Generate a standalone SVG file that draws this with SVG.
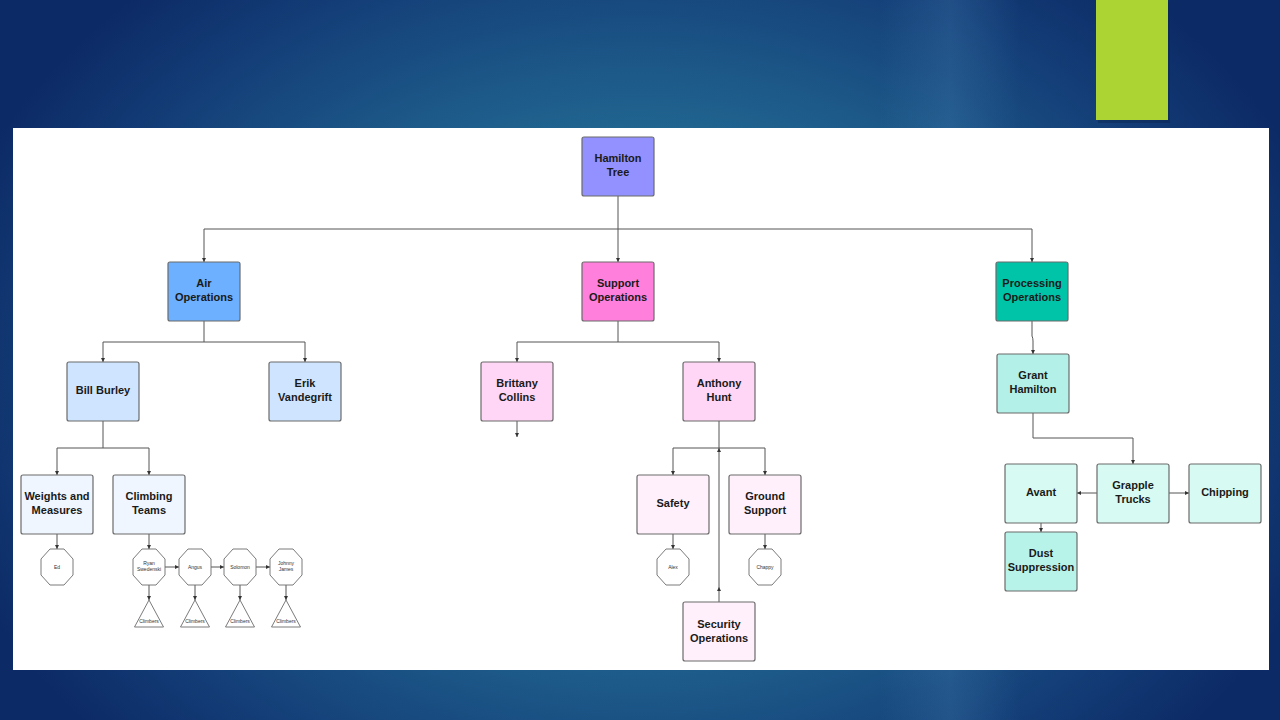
<svg xmlns="http://www.w3.org/2000/svg" width="1280" height="720" viewBox="0 0 1280 720">
<defs>
<radialGradient id="bg" cx="640" cy="380" r="720" gradientUnits="userSpaceOnUse" gradientTransform="translate(640 380) scale(1 0.75) translate(-640 -380)">
<stop offset="0" stop-color="#2c7fa0"/>
<stop offset="0.45" stop-color="#216691"/>
<stop offset="0.8" stop-color="#143f78"/>
<stop offset="1" stop-color="#0c2a66"/>
</radialGradient>
<linearGradient id="band" x1="0" y1="0" x2="1" y2="0">
<stop offset="0" stop-color="#4a86b8" stop-opacity="0"/>
<stop offset="0.5" stop-color="#4a86b8" stop-opacity="0.25"/>
<stop offset="1" stop-color="#4a86b8" stop-opacity="0"/>
</linearGradient>
<marker id="ah" viewBox="0 0 6 6" refX="6" refY="3" markerWidth="4" markerHeight="4" orient="auto" markerUnits="userSpaceOnUse">
<path d="M0,0 L6,3 L0,6 z" fill="#333"/>
</marker>
<polygon id="oct" points="-7,-18 7,-18 16,-8 16,8 7,18 -7,18 -16,8 -16,-8"/>
<polygon id="tri" points="0,-27 14.5,0 -14.5,0"/>
</defs>
<style>
.box{stroke:#6b6b6b;stroke-width:1.2}
.t{font-family:"Liberation Sans",Arial,sans-serif;font-weight:bold;font-size:11px;fill:#1a1a1a;text-anchor:middle}
.s{font-family:"Liberation Sans",Arial,sans-serif;font-size:5px;fill:#333;text-anchor:middle}
.sh{fill:#fff;stroke:#6b6b6b;stroke-width:0.9}
.c{fill:none;stroke:#555;stroke-width:1}
.a{marker-end:url(#ah)}
</style>
<rect width="1280" height="720" fill="url(#bg)"/>
<rect x="880" y="0" width="140" height="720" fill="url(#band)"/>
<rect x="1098" y="2" width="72" height="121" fill="#0a1f45" opacity="0.35"/>
<rect x="1096" y="0" width="72" height="120" fill="#acd433"/>
<rect x="13" y="128" width="1256" height="542" fill="#ffffff"/>

<g id="connectors">
<path class="c" d="M618,196 V229 M204,229 H1032"/>
<path class="c a" d="M204,229 V262"/>
<path class="c a" d="M618,229 V262"/>
<path class="c a" d="M1032,229 V262"/>
<path class="c" d="M204,321 V342 M103,342 H305"/>
<path class="c a" d="M103,342 V362"/>
<path class="c a" d="M305,342 V362"/>
<path class="c" d="M618,321 V342 M517,342 H719"/>
<path class="c a" d="M517,342 V362"/>
<path class="c a" d="M719,342 V362"/>
<path class="c a" d="M517,421 V437"/>
<path class="c a" d="M1032,321 V336 Q1033,338 1033,341 V354"/>
<path class="c" d="M103,421 V448 M57,448 H149"/>
<path class="c a" d="M57,448 V475"/>
<path class="c a" d="M149,448 V475"/>
<path class="c" d="M719,421 V448 M673,448 H765"/>
<path class="c a" d="M673,448 V475"/>
<path class="c a" d="M765,448 V475"/>
<path class="c a" d="M719,602 V587"/>
<path class="c a" d="M719,587 V448"/>
<path class="c" d="M1033,413 V438 H1133"/>
<path class="c a" d="M1133,438 V464"/>
<path class="c a" d="M1097,493 H1077"/>
<path class="c a" d="M1169,493 H1189"/>
<path class="c a" d="M1041,523 V532"/>
<path class="c a" d="M57,534 V549"/>
<path class="c a" d="M149,534 V549"/>
<path class="c a" d="M165,567 H179"/>
<path class="c a" d="M211,567 H224"/>
<path class="c a" d="M256,567 H270"/>
<path class="c a" d="M149,585 V600"/>
<path class="c a" d="M195,585 V600"/>
<path class="c a" d="M240,585 V600"/>
<path class="c a" d="M286,585 V600"/>
<path class="c a" d="M673,534 V549"/>
<path class="c a" d="M765,534 V549"/>
</g>

<g id="hamilton-tree"><rect class="box" x="582" y="137" width="72" height="59" rx="2" fill="#9391ff"/><text class="t" x="618" y="162">Hamilton</text><text class="t" x="618" y="176">Tree</text></g>
<g id="air-operations"><rect class="box" x="168" y="262" width="72" height="59" rx="2" fill="#6cb0ff"/><text class="t" x="204" y="287">Air</text><text class="t" x="204" y="301">Operations</text></g>
<g id="support-operations"><rect class="box" x="582" y="262" width="72" height="59" rx="2" fill="#ff80dc"/><text class="t" x="618" y="287">Support</text><text class="t" x="618" y="301">Operations</text></g>
<g id="processing-operations"><rect class="box" x="996" y="262" width="72" height="59" rx="2" fill="#00c4a8"/><text class="t" x="1032" y="287">Processing</text><text class="t" x="1032" y="301">Operations</text></g>
<g id="bill-burley"><rect class="box" x="67" y="362" width="72" height="59" rx="2" fill="#cfe4ff"/><text class="t" x="103" y="394">Bill Burley</text></g>
<g id="erik-vandegrift"><rect class="box" x="269" y="362" width="72" height="59" rx="2" fill="#cfe4ff"/><text class="t" x="305" y="387">Erik</text><text class="t" x="305" y="401">Vandegrift</text></g>
<g id="brittany-collins"><rect class="box" x="481" y="362" width="72" height="59" rx="2" fill="#ffd6f5"/><text class="t" x="517" y="387">Brittany</text><text class="t" x="517" y="401">Collins</text></g>
<g id="anthony-hunt"><rect class="box" x="683" y="362" width="72" height="59" rx="2" fill="#ffd6f5"/><text class="t" x="719" y="387">Anthony</text><text class="t" x="719" y="401">Hunt</text></g>
<g id="grant-hamilton"><rect class="box" x="997" y="354" width="72" height="59" rx="2" fill="#b3f1e8"/><text class="t" x="1033" y="379">Grant</text><text class="t" x="1033" y="393">Hamilton</text></g>
<g id="weights-and-measures"><rect class="box" x="21" y="475" width="72" height="59" rx="2" fill="#eff6ff"/><text class="t" x="57" y="500">Weights and</text><text class="t" x="57" y="514">Measures</text></g>
<g id="climbing-teams"><rect class="box" x="113" y="475" width="72" height="59" rx="2" fill="#eff6ff"/><text class="t" x="149" y="500">Climbing</text><text class="t" x="149" y="514">Teams</text></g>
<g id="safety"><rect class="box" x="637" y="475" width="72" height="59" rx="2" fill="#fff0fb"/><text class="t" x="673" y="507">Safety</text></g>
<g id="ground-support"><rect class="box" x="729" y="475" width="72" height="59" rx="2" fill="#fff0fb"/><text class="t" x="765" y="500">Ground</text><text class="t" x="765" y="514">Support</text></g>
<g id="security-operations"><rect class="box" x="683" y="602" width="72" height="59" rx="2" fill="#fff0fb"/><text class="t" x="719" y="628">Security</text><text class="t" x="719" y="642">Operations</text></g>
<g id="avant"><rect class="box" x="1005" y="464" width="72" height="59" rx="2" fill="#d7faf3"/><text class="t" x="1041" y="496">Avant</text></g>
<g id="grapple-trucks"><rect class="box" x="1097" y="464" width="72" height="59" rx="2" fill="#d7faf3"/><text class="t" x="1133" y="489">Grapple</text><text class="t" x="1133" y="503">Trucks</text></g>
<g id="chipping"><rect class="box" x="1189" y="464" width="72" height="59" rx="2" fill="#d7faf3"/><text class="t" x="1225" y="496">Chipping</text></g>
<g id="dust-suppression"><rect class="box" x="1005" y="532" width="72" height="59" rx="2" fill="#b8f3ea"/><text class="t" x="1041" y="557">Dust</text><text class="t" x="1041" y="571">Suppression</text></g>

<g id="ed"><use href="#oct" class="sh" x="57" y="567"/><text class="s" x="57" y="569">Ed</text></g>
<g id="ryan-swedenski"><use href="#oct" class="sh" x="149" y="567"/><text class="s" x="149" y="565">Ryan</text><text class="s" x="149" y="571">Swedenski</text></g>
<g id="angus"><use href="#oct" class="sh" x="195" y="567"/><text class="s" x="195" y="569">Angus</text></g>
<g id="solomon"><use href="#oct" class="sh" x="240" y="567"/><text class="s" x="240" y="569">Solomon</text></g>
<g id="johnny-james"><use href="#oct" class="sh" x="286" y="567"/><text class="s" x="286" y="565">Johnny</text><text class="s" x="286" y="571">James</text></g>
<g id="alex"><use href="#oct" class="sh" x="673" y="567"/><text class="s" x="673" y="569">Alex</text></g>
<g id="chappy"><use href="#oct" class="sh" x="765" y="567"/><text class="s" x="765" y="569">Chappy</text></g>

<g id="climbers-1"><use href="#tri" class="sh" x="149" y="627"/><text class="s" x="149" y="623">Climbers</text></g>
<g id="climbers-2"><use href="#tri" class="sh" x="195" y="627"/><text class="s" x="195" y="623">Climbers</text></g>
<g id="climbers-3"><use href="#tri" class="sh" x="240" y="627"/><text class="s" x="240" y="623">Climbers</text></g>
<g id="climbers-4"><use href="#tri" class="sh" x="286" y="627"/><text class="s" x="286" y="623">Climbers</text></g>
</svg>
